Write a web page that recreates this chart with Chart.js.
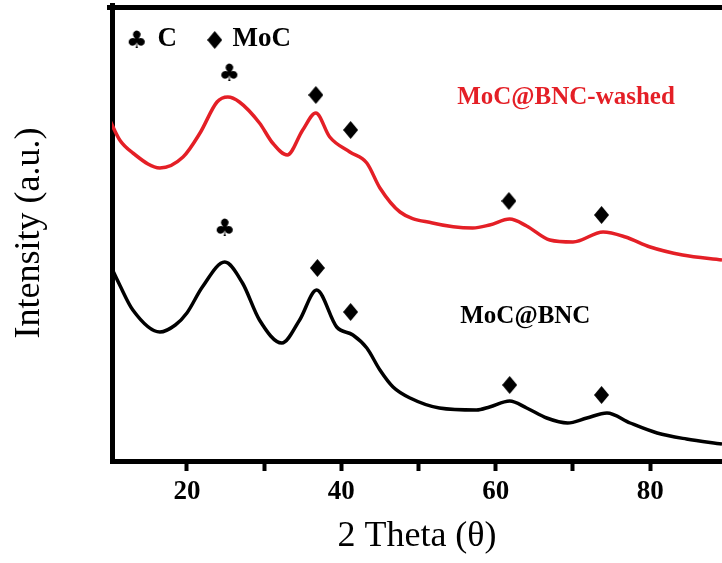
<!DOCTYPE html>
<html>
<head>
<meta charset="utf-8">
<script src="https://cdn.jsdelivr.net/npm/chart.js@4.4.1/dist/chart.umd.min.js"></script>
<style>
  html, body { margin: 0; padding: 0; background: #fff; overflow: hidden; }
  #wrap { width: 722px; height: 563px; }
</style>
</head>
<body>
<div id="wrap"><canvas id="xrd" width="722" height="563"></canvas></div>
<script>
// XRD patterns (2θ in degrees, intensity in a.u.)
const washedTheta = [10, 11.3, 13, 16.5, 19.5, 21.7, 23.9, 25.3, 26.8, 29.4, 31.1, 33, 35, 36.7, 38.5, 41.1, 43.3, 45, 47.6, 51.8, 57, 59.2, 61.8, 64, 67, 70, 73.9, 76.8, 80, 84.2, 89.3];
const washedIntensity = [343, 323, 310, 295, 306, 330, 361, 366, 361, 340, 320, 308, 333, 350, 326, 311, 300, 275, 251, 240, 235, 238, 244, 237, 223, 221, 231, 226, 216, 208, 203];

const bncTheta = [10, 11.3, 13, 16.5, 18.5, 20, 22, 24.9, 27.2, 29.4, 32.3, 34.6, 36.8, 39.4, 41.5, 43.3, 45, 46.7, 48.9, 52.7, 57.5, 59.2, 61.8, 64, 66.6, 69.3, 71.8, 74.4, 77.4, 80.9, 84.7, 89.3];
const bncIntensity = [199, 178, 153, 131, 138, 150, 176, 201, 180, 143, 120, 143, 173, 136, 128, 115, 93, 76, 65, 55, 53, 56, 62, 55, 45, 40, 45, 50, 40, 30, 24, 19];

// peak markers (♣ = C, ◆ = MoC); last entry of each is the key at the top
const clubTheta = [25.5, 24.9, 13.5];
const clubIntensity = [388, 233, 421];
const diamondTheta = [36.7, 41.2, 61.7, 73.7, 36.9, 41.2, 61.8, 73.7, 23.6];
const diamondIntensity = [368, 333, 262, 248, 195, 151, 78, 68, 423];

// text labels
const labelText = ['C', 'MoC', 'MoC@BNC-washed', 'MoC@BNC'];
const labelTheta = [16.2, 25.9, 55.0, 55.4];
const labelIntensity = [424, 424, 365, 146];
const labelColor = ['#000', '#000', '#e41f26', '#000'];
const labelSize = [27, 27, 25, 25];

// x axis
const xTickValues = [20, 30, 40, 50, 60, 70, 80];
const xTickLabels = [20, 40, 60, 80];

const SERIF = '"Liberation Serif", "Times New Roman", serif';
const RED = '#e41f26';

const toPoints = (xs, ys) => xs.map((x, i) => ({ x, y: ys[i] }));

// custom point glyphs
const makeClub = () => {
    const c = document.createElement('canvas');
    c.width = 24; c.height = 24;
    const g = c.getContext('2d');
    g.fillStyle = '#000';
    g.font = '24px "DejaVu Sans"';
    g.textAlign = 'center';
    g.textBaseline = 'middle';
    g.fillText('\u2663', 12, 12);
    return c;
};
const makeDiamond = () => {
    const c = document.createElement('canvas');
    c.width = 15; c.height = 18;
    const g = c.getContext('2d');
    g.fillStyle = '#000';
    g.beginPath();
    g.moveTo(7.5, 0); g.lineTo(15, 9); g.lineTo(7.5, 18); g.lineTo(0, 9);
    g.closePath();
    g.fill();
    return c;
};

// top frame line (the figure is boxed on top and left)
const topFrame = {
    id: 'topFrame',
    afterDraw(chart) {
        const { ctx, chartArea } = chart;
        ctx.save();
        ctx.strokeStyle = '#000';
        ctx.lineWidth = 5;
        ctx.beginPath();
        ctx.moveTo(chartArea.left - 5, chartArea.top + 2.5);
        ctx.lineTo(chartArea.right, chartArea.top + 2.5);
        ctx.stroke();
        ctx.restore();
    }
};

// text annotations placed in data coordinates
const textLabels = {
    id: 'textLabels',
    afterDatasetsDraw(chart) {
        const { ctx, scales: { x, y } } = chart;
        ctx.save();
        ctx.textAlign = 'left';
        ctx.textBaseline = 'middle';
        labelText.forEach((t, i) => {
            ctx.font = `bold ${labelSize[i]}px ${SERIF}`;
            ctx.fillStyle = labelColor[i];
            ctx.fillText(t, x.getPixelForValue(labelTheta[i]), y.getPixelForValue(labelIntensity[i]));
        });
        ctx.restore();
    }
};

new Chart(document.getElementById('xrd'), {
    type: 'line',
    data: {
        datasets: [
            {
                label: 'MoC@BNC-washed',
                data: toPoints(washedTheta, washedIntensity),
                borderColor: RED,
                borderWidth: 3.5,
                pointRadius: 0,
                cubicInterpolationMode: 'monotone'
            },
            {
                label: 'MoC@BNC',
                data: toPoints(bncTheta, bncIntensity),
                borderColor: '#000',
                borderWidth: 3.5,
                pointRadius: 0,
                cubicInterpolationMode: 'monotone'
            },
            {
                type: 'scatter',
                label: 'C',
                data: toPoints(clubTheta, clubIntensity),
                pointStyle: makeClub(),
                clip: false
            },
            {
                type: 'scatter',
                label: 'MoC',
                data: toPoints(diamondTheta, diamondIntensity),
                pointStyle: makeDiamond(),
                clip: false
            }
        ]
    },
    options: {
        responsive: false,
        animation: false,
        layout: { autoPadding: false, padding: { top: 5, left: 0, right: 0, bottom: 0 } },
        plugins: {
            legend: { display: false },
            tooltip: { enabled: false }
        },
        scales: {
            x: {
                type: 'linear',
                min: 10.3,
                max: 89.3,
                afterBuildTicks: s => { s.ticks = xTickValues.map(v => ({ value: v })); },
                afterFit: s => {
                    s.height = 102;
                    s.paddingLeft = 0;
                    s.paddingRight = 0;
                },
                ticks: {
                    autoSkip: false,
                    maxRotation: 0,
                    padding: 5,
                    color: '#000',
                    font: { family: SERIF, size: 27, weight: 'bold' },
                    callback: v => (xTickLabels.includes(v) ? String(v) : '')
                },
                grid: {
                    display: true,
                    drawOnChartArea: false,
                    drawTicks: true,
                    tickLength: 10,
                    tickWidth: 4,
                    tickColor: '#000'
                },
                border: { display: true, color: '#000', width: 5 },
                title: {
                    display: true,
                    text: '2 Theta (\u03b8)',
                    color: '#000',
                    font: { family: SERIF, size: 36 },
                    padding: { top: 0, bottom: 5 }
                }
            },
            y: {
                min: 2,
                max: 458,
                afterFit: s => {
                    s.width = 112;
                    s.paddingTop = 0;
                    s.paddingBottom = 0;
                },
                ticks: { display: false },
                grid: { display: false },
                border: { display: true, color: '#000', width: 5 },
                title: {
                    display: true,
                    text: 'Intensity (a.u.)',
                    color: '#000',
                    font: { family: SERIF, size: 36 },
                    padding: { top: 8, bottom: 0 }
                }
            }
        }
    },
    plugins: [topFrame, textLabels]
});
</script>
</body>
</html>
